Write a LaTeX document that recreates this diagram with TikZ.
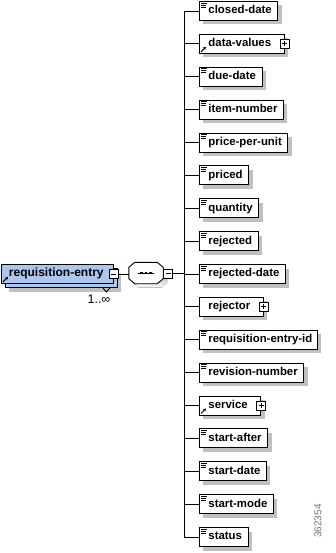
\documentclass[tikz,border=0pt]{standalone}
\usepackage{fontspec}
\setmainfont{Liberation Sans}
\usetikzlibrary{shadows,arrows.meta}
\definecolor{mainblue}{RGB}{172,198,240}
\definecolor{shade}{RGB}{192,192,192}
\newcommand\txicon[1]{\draw[line width=0.7pt] ([shift={(2,2)}]#1.north west) -- ++(6,0) ([shift={(2,4)}]#1.north west) -- ++(5,0) ([shift={(2,6)}]#1.north west) -- ++(5,0);}
\newcommand\reficon[1]{\draw[line width=1pt,-{Stealth[length=3pt,width=3.2pt]}] ([shift={(2,-2)}]#1.south west) -- ++(5,-5);}
\newcommand\octpath[3]{% node, dx, dy
  ([shift={(6+#2,#3)}]#1.north west) -- ([shift={(-6+#2,#3)}]#1.north east) -- ([shift={(#2,5+#3)}]#1.north east)
  -- ([shift={(#2,-5+#3)}]#1.south east) -- ([shift={(-6+#2,#3)}]#1.south east) -- ([shift={(6+#2,#3)}]#1.south west)
  -- ([shift={(#2,-5+#3)}]#1.south west) -- ([shift={(#2,5+#3)}]#1.north west) -- cycle}
\begin{document}
\begin{tikzpicture}[x=1pt,y=-1pt,
  elem/.style={draw, fill=white, line width=0.9pt, anchor=west, inner xsep=0pt, inner ysep=0pt,
    minimum height=19pt, text height=8.4pt, text depth=2.6pt,
    font=\bfseries\fontsize{11.4}{13}\selectfont,
    drop shadow={shadow xshift=4pt, shadow yshift=-4pt, fill=shade, opacity=1}},
  mainbox/.style={draw, fill=mainblue, line width=0.9pt, anchor=west, inner xsep=0pt, inner ysep=0pt,
    minimum height=19pt, text height=8.4pt, text depth=2.6pt, text width=112pt, align=left,
    font=\bfseries\fontsize{12}{13}\selectfont,
    drop shadow={shadow xshift=8pt, shadow yshift=-8pt, fill=shade, opacity=1},
    copy shadow={shadow xshift=4pt, shadow yshift=-4pt, fill=mainblue, draw=black, line width=0.9pt}},
  sq/.style={draw, fill=white, line width=0.8pt, minimum size=9pt, inner sep=0pt},
  minus/.style={sq, path picture={\draw[line width=0.8pt] ([xshift=2pt]path picture bounding box.west) -- ([xshift=-2pt]path picture bounding box.east);}},
  plus/.style={sq, path picture={\draw[line width=0.8pt] ([xshift=2pt]path picture bounding box.west) -- ([xshift=-2pt]path picture bounding box.east);
      \draw[line width=0.8pt] ([yshift=-2pt]path picture bounding box.north) -- ([yshift=2pt]path picture bounding box.south);}},
  seqbox/.style={rectangle, minimum width=34pt, minimum height=21pt, inner sep=0pt},
  conn/.style={line width=0.9pt}
]
\useasboundingbox (0,0) rectangle (336,553);

% bus
\coordinate (bt) at (184,11);
\coordinate (bb) at (184,537);
\draw[conn] (bt) -- (bb);

% main element
\node[mainbox] (re) at (1,274) {\hspace*{7.5pt}requisition-entry};
\reficon{re}
\node[minus] (rm) at (re.east) {};
\draw[conn] (re.south east) ++(-11,4) coordinate (v1) -- ++(3.5,4) coordinate (v2) -- ++(3.5,-4) coordinate (v3);
\node[font=\fontsize{12.5}{13}\selectfont, inner sep=0pt] (card) at (99,299) {1..∞};

% sequence compositor
\node[seqbox] (seq) at (146,273) {};
\fill[shade] \octpath{seq}{4}{4};
\draw[conn, fill=white] \octpath{seq}{0}{0};
\draw[line width=1pt] ([xshift=-8pt]seq.center) -- ([xshift=8pt]seq.center);
\fill ([shift={(-5.8,-1.4)}]seq.center) rectangle ++(2.8,2.8);
\fill ([shift={(-1.4,-1.4)}]seq.center) rectangle ++(2.8,2.8);
\fill ([shift={(3,-1.4)}]seq.center) rectangle ++(2.8,2.8);
\node[minus, anchor=west] (sm) at ([yshift=-0.5pt]seq.east) {};
\draw[conn] (rm.east) -- (seq.west |- rm.east);
\draw[conn] (sm.east) -- (sm.east -| bt);

% children
\node[elem] (c0) at (199,11) {\hspace*{9pt}closed-date\hspace*{6pt}};
\node[elem] (c1) at (199,43.875) {\hspace*{9pt}data-values\hspace*{13pt}};
\node[elem] (c2) at (199,76.75) {\hspace*{9pt}due-date\hspace*{6pt}};
\node[elem] (c3) at (199,109.625) {\hspace*{9pt}item-number\hspace*{6pt}};
\node[elem] (c4) at (199,142.5) {\hspace*{9pt}price-per-unit\hspace*{6pt}};
\node[elem] (c5) at (199,175.375) {\hspace*{9pt}priced\hspace*{6pt}};
\node[elem] (c6) at (199,208.25) {\hspace*{9pt}quantity\hspace*{6pt}};
\node[elem] (c7) at (199,241.125) {\hspace*{9pt}rejected\hspace*{6pt}};
\node[elem] (c8) at (199,274) {\hspace*{9pt}rejected-date\hspace*{6pt}};
\node[elem] (c9) at (199,306.875) {\hspace*{9pt}rejector\hspace*{13pt}};
\node[elem] (c10) at (199,339.75) {\hspace*{9pt}requisition-entry-id\hspace*{5pt}};
\node[elem] (c11) at (199,372.625) {\hspace*{9pt}revision-number\hspace*{6pt}};
\node[elem] (c12) at (199,405.5) {\hspace*{9pt}service\hspace*{13pt}};
\node[elem] (c13) at (199,438.375) {\hspace*{9pt}start-after\hspace*{6pt}};
\node[elem] (c14) at (199,471.25) {\hspace*{9pt}start-date\hspace*{6pt}};
\node[elem] (c15) at (199,504.125) {\hspace*{9pt}start-mode\hspace*{6pt}};
\node[elem] (c16) at (199,537) {\hspace*{9pt}status\hspace*{6pt}};

\foreach \k in {0,...,16} {\draw[conn] (c\k.west -| bt) -- (c\k.west);}
\foreach \k in {0,2,3,4,5,6,7,8,10,11,13,14,15,16} {\txicon{c\k}}
\reficon{c1}
\reficon{c12}
\node[plus] (p1) at (c1.east) {};
\node[plus] (p9) at (c9.east) {};
\node[plus] (p12) at (c12.east) {};

% watermark
\node[rotate=90, font=\fontsize{10}{11}\selectfont, text=black!55, inner sep=0pt] (wm) at (318,521) {362354};
\end{tikzpicture}
\end{document}
